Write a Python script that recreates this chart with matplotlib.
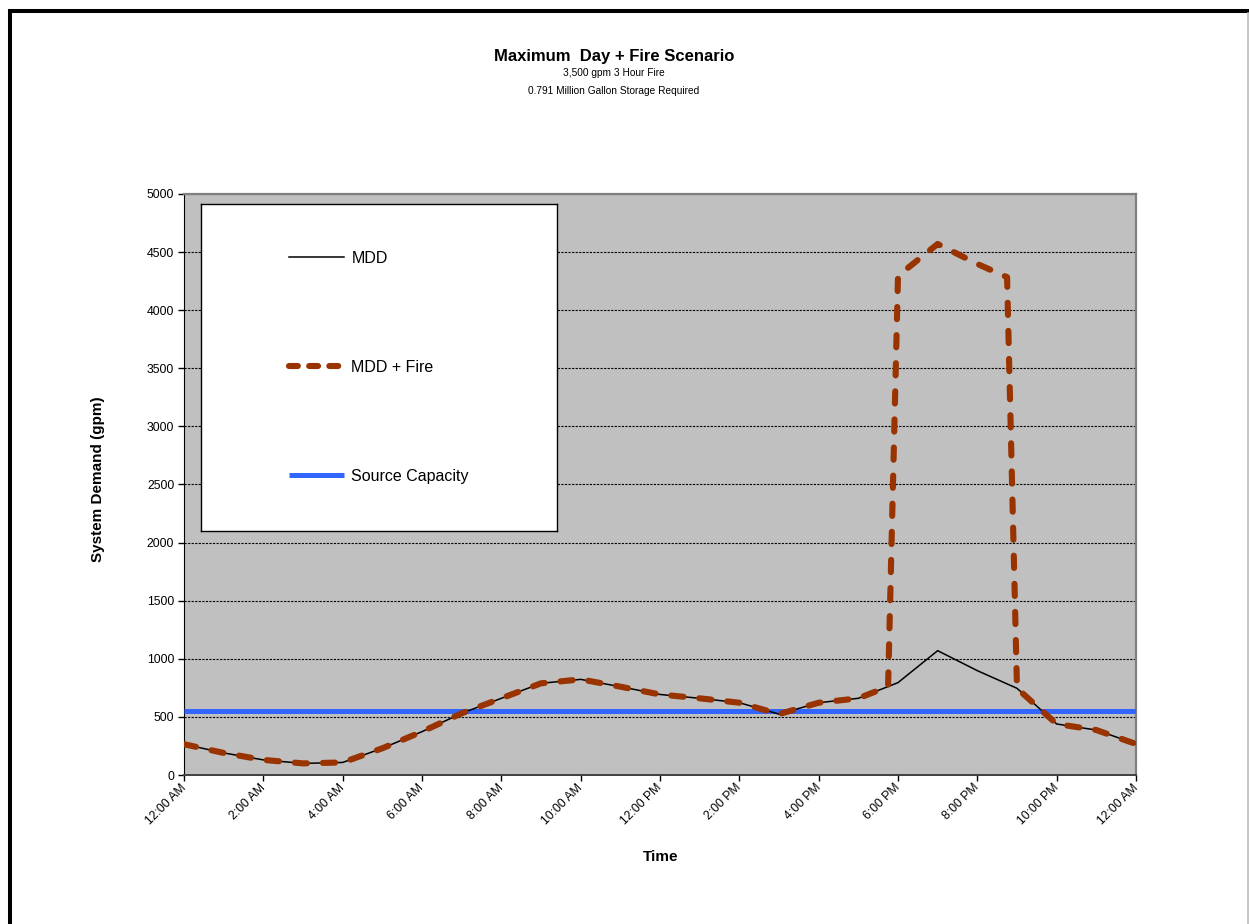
import matplotlib
matplotlib.use('Agg')
import matplotlib.pyplot as plt
from matplotlib.lines import Line2D

plt.rcParams['font.family'] = ['Liberation Sans', 'DejaVu Sans']

# Hourly demand over one maximum day (gpm)
hours = list(range(25))
mdd = [265, 190, 130, 100, 108, 230, 373, 531, 660, 789, 823, 760, 693,
       660, 622, 524, 622, 660, 795, 1070, 898, 746, 439, 387, 267]

# Same day with a 3,500 gpm fire flow from 6 PM to 9 PM
fire_hours = [0, 1, 2, 3, 4, 5, 6, 7, 8, 9, 10, 11, 12, 13, 14, 15, 16, 17,
              17.75, 18, 19, 20, 20.75, 21, 22, 23, 24]
mdd_fire = [265, 190, 130, 100, 108, 230, 373, 531, 660, 789, 823, 760, 693,
            660, 622, 524, 622, 660, 761, 4295, 4570, 4398, 4284, 746,
            439, 387, 267]

source_capacity = 550

tick_hours = list(range(0, 25, 2))
tick_labels = ['12:00 AM', '2:00 AM', '4:00 AM', '6:00 AM', '8:00 AM',
               '10:00 AM', '12:00 PM', '2:00 PM', '4:00 PM', '6:00 PM',
               '8:00 PM', '10:00 PM', '12:00 AM']

FIRE_COLOR = '#993300'
SOURCE_COLOR = '#3366FF'

W, H = 1249, 924
fig = plt.figure(figsize=(W / 100, H / 100), dpi=100)
fig.patch.set_facecolor('white')

# page frame
fig.add_artist(Line2D([10 / W, 10 / W], [0, 1 - 11 / H], color='black', lw=2.9, solid_capstyle='projecting'))
fig.add_artist(Line2D([10 / W, 1], [1 - 11 / H, 1 - 11 / H], color='black', lw=2.9, solid_capstyle='projecting'))
fig.add_artist(Line2D([1247.5 / W, 1247.5 / W], [0, 1 - 13 / H], color='#bbbbbb', lw=1.2))

ax = fig.add_axes([184 / W, 1 - 775 / H, 952 / W, 581 / H])
ax.set_facecolor('#C0C0C0')

src = ax.plot([hours[0], hours[-1]], [source_capacity, source_capacity],
              color=SOURCE_COLOR, lw=3.6, solid_capstyle='butt', zorder=3,
              label='Source Capacity')[0]
l_mdd = ax.plot(hours, mdd, color='black', lw=1.1, zorder=4, label='MDD')[0]
ax.plot(fire_hours, mdd_fire, color=FIRE_COLOR, lw=4.4,
        dashes=[2.0, 2.6], dash_capstyle='round', zorder=5, label='MDD + Fire')

ax.set_xlim(0, 24)
ax.set_ylim(0, 5000)
ax.set_yticks(range(0, 5001, 500))
ax.set_xticks(tick_hours)
ax.set_xticklabels(tick_labels, rotation=45, ha='right', va='center',
                   rotation_mode='anchor')
ax.tick_params(axis='both', direction='out', length=4, width=1, color='black',
               labelsize=8.8, labelcolor='black')
ax.tick_params(axis='x', pad=4)
ax.tick_params(axis='y', pad=3)

ax.grid(axis='y', color='black', lw=0.8, linestyle=(0, (2, 1.2)))
ax.set_axisbelow(True)

for side in ['top', 'right']:
    ax.spines[side].set_color('#808080')
    ax.spines[side].set_linewidth(1.6)
ax.spines['left'].set_color('black')
ax.spines['bottom'].set_color('#404040')
ax.spines['bottom'].set_linewidth(1.4)

ax.set_ylabel('System Demand (gpm)', fontsize=11, fontweight='bold', va='center')
ax.yaxis.set_label_coords(-0.0903, 0.509)
ax.set_xlabel('Time', fontsize=11, fontweight='bold', va='center')
ax.xaxis.set_label_coords(0.501, -0.141)

# legend in its own white box inside the plot area;
# the fire handle uses a shorter dash so three dashes fit the sample
fire_handle = Line2D([], [], color=FIRE_COLOR, lw=4.4, dashes=[1.45, 1.85],
                     dash_capstyle='round')
lax = fig.add_axes([201 / W, 1 - 531 / H, 356 / W, 327 / H])
lax.set_facecolor('white')
lax.set_xticks([])
lax.set_yticks([])
for s in lax.spines.values():
    s.set_color('black')
    s.set_linewidth(1.0)
lax.legend([l_mdd, fire_handle, src], ['MDD', 'MDD + Fire', 'Source Capacity'],
           loc='center', frameon=False, fontsize=11.5, labelspacing=5.88,
           handlelength=3.45, handletextpad=0.45)

fig.text(614 / W, 1 - 57 / H, 'Maximum  Day + Fire Scenario', ha='center',
         va='center', fontsize=12, fontweight='bold')
fig.text(614 / W, 1 - 72.5 / H, '3,500 gpm 3 Hour Fire', ha='center',
         va='center', fontsize=7.3)
fig.text(614 / W, 1 - 91.5 / H, '0.791 Million Gallon Storage Required',
         ha='center', va='center', fontsize=7.3)

fig.savefig('out.png', dpi=100)
